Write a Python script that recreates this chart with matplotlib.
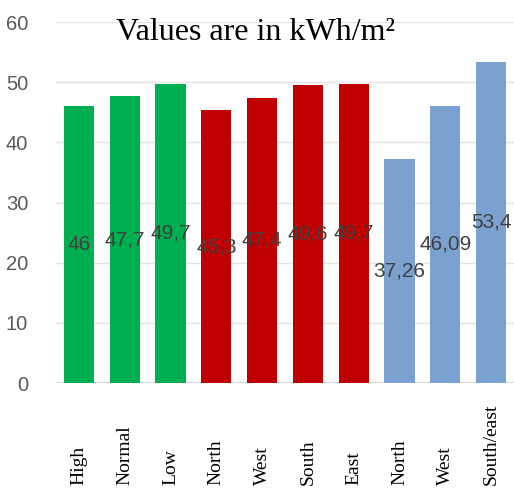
import matplotlib
matplotlib.use("Agg")
import matplotlib.pyplot as plt
import matplotlib.transforms as mtransforms

categories = ["High", "Normal", "Low", "North", "West", "South", "East", "North", "West", "South/east"]
values = [46, 47.7, 49.7, 45.3, 47.4, 49.6, 49.7, 37.26, 46.09, 53.4]
value_labels = ["46", "47,7", "49,7", "45,3", "47,4", "49,6", "49,7", "37,26", "46,09", "53,4"]
groups = ["g", "g", "g", "r", "r", "r", "r", "b", "b", "b"]
yticks = [0, 10, 20, 30, 40, 50, 60]

palette = {"g": "#00b050", "r": "#c00000", "b": "#7ba1d0"}
colors = [palette[g] for g in groups]

fig = plt.figure(figsize=(5.14, 4.90), dpi=100)
ax = fig.add_axes([56/514, 1 - 383/490, 458/514, 361/490])

x = list(range(len(categories)))
bars = ax.bar(x, values, width=0.66, color=colors, zorder=3)

ax.set_xlim(-0.5, len(categories) - 0.5)
ax.set_ylim(0, 60)
ax.set_yticks(yticks)
ax.set_yticklabels([str(t) for t in yticks], family="Liberation Sans", fontsize=14.5, color="#595959")
ax.tick_params(axis="y", length=0, pad=20)
ax.tick_params(axis="x", length=0, labelbottom=False)
for s in ax.spines.values():
    s.set_visible(False)
ax.yaxis.grid(True, color="#e3e3e3", linewidth=1.0, zorder=0)
ax.axhline(0, color="#d0d0d0", linewidth=1.2, zorder=2)

for xi, v, lab in zip(x, values, value_labels):
    ax.text(xi, v / 2, lab, ha="center", va="center", family="Liberation Sans",
            fontsize=15, color="#404040", zorder=5)

trans = mtransforms.blended_transform_factory(ax.transData, ax.transAxes)
for xi, cat in zip(x, categories):
    ax.text(xi, -102/361, cat, rotation=90, ha="center", va="bottom", transform=trans,
            family="Liberation Serif", fontsize=14, color="black")

ax.text((255 - 56) / 458, (383 - 32) / 361, "Values are in kWh/m²", transform=ax.transAxes,
        ha="center", va="center", family="Liberation Serif", fontsize=23, color="black")

fig.savefig("out.png", dpi=100)
